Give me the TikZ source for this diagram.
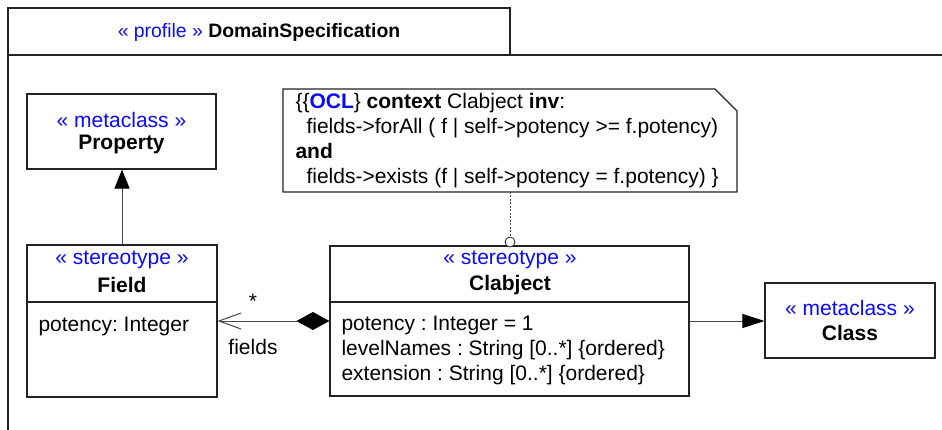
\documentclass[tikz,border=0pt]{standalone}
\usepackage{fontspec}
\setmainfont{Liberation Sans}
\usetikzlibrary{arrows.meta}
\definecolor{stblue}{RGB}{10,10,250}
\definecolor{edge}{RGB}{35,35,35}
\definecolor{conn}{RGB}{70,70,70}
\begin{document}
\frenchspacing
\begin{tikzpicture}[x=1pt,y=-1pt,
  font=\fontsize{21}{25}\selectfont\frenchspacing,
  line width=1pt,
  umlbox/.style={draw=edge, line width=1.1pt, inner sep=0pt, fill=white},
  stereo/.style={text=stblue, inner sep=0pt},
  lbl/.style={inner sep=0pt},
  assoc/.style={draw=conn, line width=1pt}
]
\useasboundingbox (0,0) rectangle (942,430);
% package frame
\draw[edge, line width=1.1pt] (8,430) -- (8,8) -- (510,8) -- (510,55);
\draw[edge, line width=1.1pt] (8,55) -- (942,55);
\node[lbl, font=\fontsize{19.4}{23}\selectfont] (title) at (259,32.5) {\textcolor{stblue}{« profile »} \textbf{DomainSpecification}};

% Property
\node[umlbox, minimum width=189pt, minimum height=75pt] (prop) at (121.5,131.5) {};
\node[stereo] (propst) at (121.5,120) {« metaclass »};
\node[lbl] (propname) at (121.5,144) {\textbf{Property}};

% Field
\node[umlbox, minimum width=190pt, minimum height=152pt] (field) at (122,321) {};
\draw[edge, line width=1.1pt] (field.west |- 0,302) -- (field.east |- 0,302);
\node[stereo] (fieldst) at (122,260) {« stereotype »};
\node[lbl] (fieldname) at (122,285) {\textbf{Field}};
\node[lbl, anchor=west] (fieldattr) at (38,326) {potency: Integer};

% Clabject
\node[umlbox, minimum width=359pt, minimum height=150pt] (clab) at (509.5,321) {};
\draw[edge, line width=1.1pt] (clab.west |- 0,302) -- (clab.east |- 0,302);
\node[stereo] (clabst) at (510,260) {« stereotype »};
\node[lbl] (clabname) at (510,285) {\textbf{Clabject}};
\node[lbl, anchor=west, align=left] (clabattr) at (341,350) {potency : Integer = 1\\levelNames : String [0..*] \{ordered\}\\extension : String [0..*] \{ordered\}};

% Class
\node[umlbox, minimum width=170pt, minimum height=75pt] (class) at (850,320.5) {};
\node[stereo] (classst) at (850,308) {« metaclass »};
\node[lbl] (classname) at (850,333) {\textbf{Class}};

% Note
\draw[edge, line width=1.1pt, fill=white] (283,89) -- (715,89) -- (737,111) -- (737,192) -- (283,192) -- cycle;
\node[lbl, anchor=west, align=left] (note) at (295,140.5) {\{\{\textcolor{stblue}{\textbf{OCL}}\} \textbf{context} Clabject \textbf{inv}:\\
\hspace*{11pt}fields->forAll ( f | self->potency >= f.potency)\\
\textbf{and}\\
\hspace*{11pt}fields->exists (f | self->potency = f.potency) \}};
\coordinate (notebot) at (510,192);

% anchor circle and dashed note link
\node[draw=edge, circle, fill=white, line width=0.8pt, minimum size=10pt, inner sep=0pt] (anch) at (510,242) {};
\draw[conn, line width=0.8pt, dash pattern=on 2pt off 1.5pt] (notebot) -- (anch.north);

% connectors
\draw[assoc, -{Triangle[length=19pt,width=15pt,fill=black,color=black]}] (field.north) -- (field.north |- prop.south);
\draw[assoc, {Diamond[length=33pt,width=18pt,fill=black,color=black]}-{Straight Barb[length=22pt,width=16pt,line width=1pt]}] (clab.west) -- (field.east);
\draw[assoc, -{Triangle[length=22pt,width=14pt,fill=black,color=black]}] (clab.east) -- (clab.east -| class.west);
\node[lbl] (mult) at (253,301) {*};
\node[lbl] (role) at (253,347) {fields};
\end{tikzpicture}
\end{document}
